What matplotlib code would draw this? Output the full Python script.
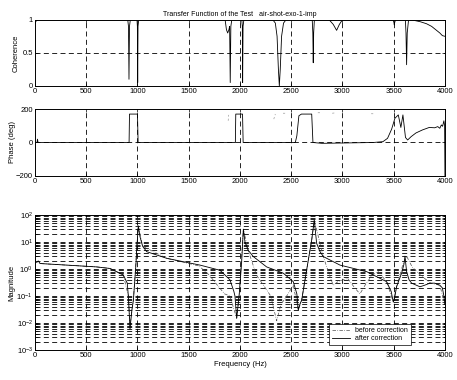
import matplotlib
matplotlib.use('Agg')
import matplotlib.pyplot as plt
from matplotlib.ticker import FixedLocator, LogLocator, NullFormatter

plt.rcParams['font.family'] = ['Liberation Sans', 'DejaVu Sans']
plt.rcParams['font.size'] = 5.5
plt.rcParams['mathtext.default'] = 'regular'

# coherence
coh_f = [0, 8, 15, 25, 905, 912, 917, 922, 930, 995, 999, 1002, 1005, 1012,
         1855, 1868, 1880, 1892, 1899, 1905, 1911, 1920, 2018, 2023, 2026, 2030, 2038,
         2320, 2345, 2362, 2375, 2384, 2393, 2406, 2425, 2450,
         2705, 2711, 2715, 2719, 2726, 2870, 2910, 2943, 2970, 3000,
         3495, 3502, 3506, 3510, 3518, 3614, 3620, 3626, 3632, 3645,
         3700, 3760, 3820, 3870, 3910, 3950, 3975, 4000]
coh_v = [0.95, 0.97, 1, 1, 1, 0.9, 0.1, 0.9, 1, 1, 0.9, 0.05, 0.9, 1,
         1, 0.85, 0.8, 0.85, 0.9, 0.05, 0.9, 1, 1, 0.9, 0.05, 0.9, 1,
         1, 0.95, 0.75, 0.25, 0.0, 0.25, 0.75, 0.95, 1,
         1, 0.8, 0.35, 0.8, 1, 1, 0.93, 0.84, 0.93, 1,
         1, 0.96, 0.92, 0.96, 1, 1, 0.8, 0.32, 0.8, 1,
         0.99, 0.97, 0.94, 0.9, 0.85, 0.8, 0.76, 0.75]

# phase after correction
ph_f = [0, 20, 24, 30, 918, 922, 1000, 1006, 1955, 1959, 2025, 2031,
        2540, 2555, 2575, 2600, 2700, 2712, 2800, 3000, 3300, 3395, 3440,
        3480, 3512, 3545, 3570, 3590, 3615, 3636, 3670, 3717, 3780, 3847,
        3900, 3930, 3950, 3965, 3977, 3990, 3997, 4000]
ph_v = [0, 0, 20, 0, 0, 170, 170, 0, 0, 170, 170, 0,
        0, 40, 160, 170, 170, 0, -5, -3, 0, 5, 25,
        80, 145, 165, 90, 165, 30, 15, 35, 57, 75, 90,
        88, 95, 85, 105, 97, 130, 100, -200]

# phase before correction: short faint fragments (None splits them)
ph_b_f = [1885, 1890, None, 2330, 2345, None, 2420, 2445, None,
          2760, 2800, None, 2900, 2940, None, 3280, 3300]
ph_b_v = [130, 165, None, 140, 170, None, 175, 175, None,
          178, 178, None, 175, 178, None, 172, 172]

# magnitude after correction
mag_f = [0, 15, 32, 50, 309, 600, 732, 862, 900, 911, 927, 945, 960, 985, 992,
         1008, 1024, 1050, 1090, 1285, 1610, 1805, 1902, 1940, 1951, 1968, 1985,
         1993, 2016, 2033, 2049, 2080, 2130, 2260, 2423, 2520, 2555, 2569, 2585,
         2602, 2650, 2700, 2725, 2748, 2780, 2813, 2976, 3236, 3431, 3475, 3496,
         3510, 3528, 3577, 3600, 3610, 3626, 3650, 3675, 3756, 3800, 3854, 3900,
         3951, 3975, 3990, 4000]
mag_v = [1.7, 1.8, 2.0, 1.6, 1.4, 1.2, 1.05, 0.6, 0.3, 0.1, 0.006, 0.03, 0.07, 1.5, 5,
         40, 16, 7, 4.4, 2.5, 1.4, 0.9, 0.4, 0.15, 0.1, 0.015, 0.06,
         0.12, 1.7, 30, 10, 5, 2.9, 1.2, 0.7, 0.34, 0.12, 0.03, 0.05,
         0.07, 0.9, 12, 65, 9, 4.5, 2.9, 1.4, 0.8, 0.34, 0.15, 0.06,
         0.09, 0.22, 0.7, 1.5, 3.0, 0.8, 0.4, 0.3, 0.22, 0.25, 0.3, 0.3,
         0.25, 0.2, 0.1, 0.05]

# magnitude before correction
mag_b_f = [0, 15, 50, 600, 732, 862, 911, 927, 960, 992, 1008, 1050, 1285, 1600,
           1700, 1780, 1850, 1902, 1968, 1993, 2033, 2080, 2160, 2230, 2300, 2358,
           2400, 2440, 2520, 2569, 2602, 2700, 2725, 2813, 2880, 2910, 2960, 3050,
           3120, 3171, 3220, 3290, 3350, 3431, 3496, 3528, 3590, 3626, 3680, 3760,
           3860, 3950, 4000]
mag_b_v = [1.7, 1.9, 1.6, 1.2, 1.05, 0.6, 0.1, 0.008, 0.07, 5, 40, 7, 2.5, 1.3,
           0.6, 0.25, 0.12, 0.1, 0.015, 0.12, 30, 5, 0.6, 0.25, 0.1, 0.012,
           0.05, 0.08, 0.25, 0.03, 0.07, 12, 65, 2.9, 0.5, 0.25, 0.35, 0.45,
           0.2, 0.12, 0.25, 0.6, 0.8, 0.34, 0.06, 0.22, 1.5, 3.0, 1.2, 0.6,
           0.3, 0.25, 0.05]

xticks = [0, 500, 1000, 1500, 2000, 2500, 3000, 3500, 4000]
grid_kw = dict(color='black', linewidth=0.6, linestyle=(0, (6, 4)))

fig = plt.figure(figsize=(4.57, 3.80), dpi=100)
ax1 = fig.add_axes([0.0766, 0.774, 0.897, 0.174])
ax2 = fig.add_axes([0.0766, 0.537, 0.897, 0.176])
ax3 = fig.add_axes([0.0766, 0.079, 0.897, 0.355])

for ax in (ax1, ax2, ax3):
    ax.set_xlim(0, 4000)
    ax.xaxis.set_major_locator(FixedLocator(xticks))
    ax.tick_params(direction='in', length=2, width=0.5, pad=1.5, labelsize=5.5,
                   top=True, right=True, which='both')
    for s in ax.spines.values():
        s.set_linewidth(0.7)
    for x in xticks[1:-1]:
        ax.axvline(x, **grid_kw, zorder=1)

# coherence
ax1.plot(coh_f, coh_v, color='black', linewidth=0.6, zorder=3)
ax1.set_ylim(0, 1)
ax1.set_yticks([0, 0.5, 1])
ax1.set_yticklabels(['0', '0.5', '1'])
ax1.axhline(0.5, **grid_kw, zorder=1)
ax1.set_ylabel('Coherence', labelpad=2)
ax1.set_title('Transfer Function of the Test   air-shot-exo-1-imp', fontsize=5, pad=3)

# phase
ax2.plot(ph_b_f, ph_b_v, color='0.6', linewidth=0.5, linestyle=(0, (3, 3)), zorder=2)
ax2.plot(ph_f, ph_v, color='black', linewidth=0.6, zorder=3)
ax2.set_ylim(-200, 200)
ax2.set_yticks([-200, 0, 200])
ax2.axhline(0, **grid_kw, zorder=1)
ax2.set_ylabel('Phase (deg)', labelpad=0)

# magnitude
lb, = ax3.semilogy(mag_b_f, mag_b_v, color='0.3', linewidth=0.5,
                   linestyle=(0, (5, 2, 1, 2)), zorder=2, label='before correction')
la, = ax3.semilogy(mag_f, mag_v, color='black', linewidth=0.6, zorder=3,
                   label='after correction')
ax3.set_ylim(1e-3, 1e2)
ax3.yaxis.set_major_locator(LogLocator(base=10, numticks=10))
ax3.yaxis.set_minor_locator(LogLocator(base=10, subs=range(2, 10), numticks=20))
ax3.yaxis.set_minor_formatter(NullFormatter())
ax3.grid(True, axis='y', which='both', **grid_kw, zorder=1)
ax3.set_ylabel('Magnitude', labelpad=1)
ax3.set_xlabel('Frequency (Hz)', labelpad=1.5)
leg = ax3.legend(loc='lower right', bbox_to_anchor=(0.925, 0.01), fontsize=5,
                 frameon=True, fancybox=False, edgecolor='black', framealpha=1,
                 handlelength=2.5, borderpad=0.4, labelspacing=0.2)
leg.get_frame().set_linewidth(0.5)

fig.savefig('out.png', dpi=100)
